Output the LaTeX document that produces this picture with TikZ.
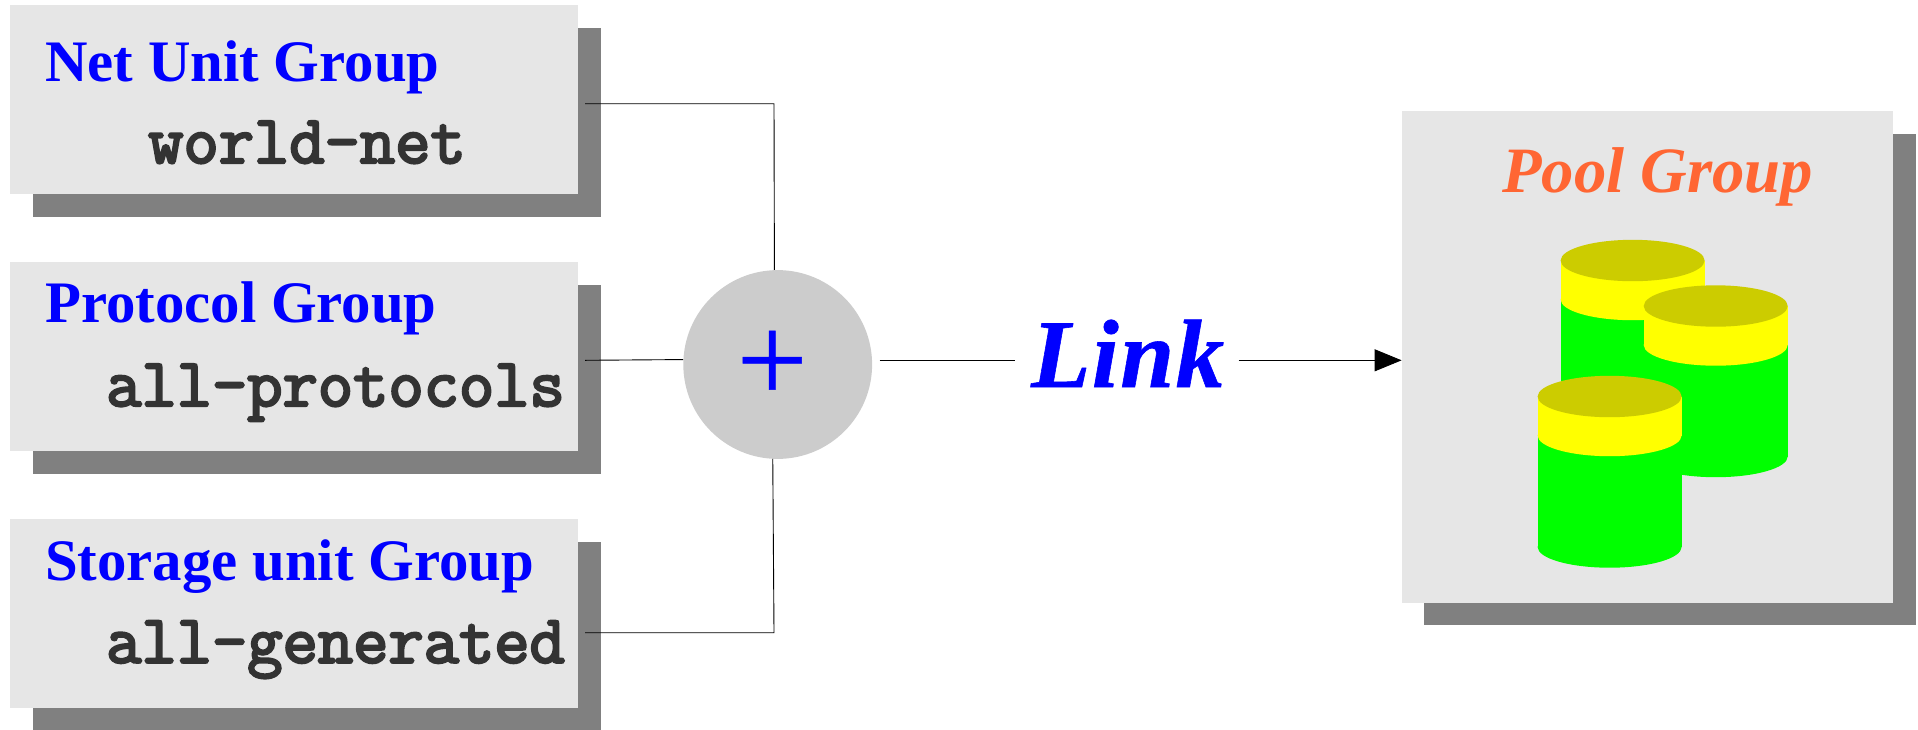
\documentclass[tikz,border=0pt]{standalone}
\usepackage{fontspec}
\setmainfont{Liberation Serif}
\newfontfamily\heavymono[FakeBold=3.5]{Latin Modern Mono}
\newfontfamily\plusfont[FakeBold=0.4]{Liberation Serif}
\newfontface\linkfont[LetterSpace=1.5,FakeBold=0.6]{Liberation Serif Bold Italic}
\usetikzlibrary{arrows.meta}
\definecolor{boxgray}{HTML}{E6E6E6}
\definecolor{shadowgray}{HTML}{808080}
\definecolor{circgray}{HTML}{CCCCCC}
\definecolor{monogray}{HTML}{333333}
\definecolor{poolorange}{HTML}{FF6633}
\definecolor{cylgreen}{HTML}{00FF00}
\definecolor{cylyellow}{HTML}{FFFF00}
\definecolor{cylolive}{HTML}{CCCC00}
\newcommand{\fsz}[1]{\fontsize{#1}{#1}\selectfont}
\newcommand{\cylinder}[2]{%
  \fill[cylgreen] (#1-72,#2+39) rectangle (#1+72,#2+150.5);
  \fill[cylgreen] (#1,#2+150.5) ellipse [x radius=72pt,y radius=20.7pt];
  \fill[cylyellow] (#1,#2+39) ellipse [x radius=72pt,y radius=20.7pt];
  \fill[cylyellow] (#1-72,#2) rectangle (#1+72,#2+39);
  \fill[cylolive] (#1,#2) ellipse [x radius=72pt,y radius=20.7pt];
}
\tikzset{
  x=1pt,y=-1pt,
  groupbox/.style={fill=boxgray,inner sep=0pt,minimum width=567.5pt,minimum height=189pt,anchor=north west},
  shadowbox/.style={fill=shadowgray,inner sep=0pt,minimum width=567.5pt,minimum height=189pt,anchor=north west},
  grouptitle/.style={anchor=base west,inner sep=0pt,text=blue,font=\fsz{58.8}\bfseries},
  groupname/.style={anchor=base west,inner sep=0pt,text=monogray,font=\fsz{68.5}\heavymono},
  conn/.style={draw=black,line width=0.9pt},
}
\begin{document}
\begin{tikzpicture}
\useasboundingbox (0,0) rectangle (1918,729);
% group boxes
\node[shadowbox] (s1) at (33,28) {};
\node[groupbox] (g1) at (10,5) {};
\node[shadowbox] (s2) at (33,285) {};
\node[groupbox] (g2) at (10,262) {};
\node[shadowbox] (s3) at (33,542) {};
\node[groupbox] (g3) at (10,519) {};
\node[grouptitle] (t1) at (45,81.7) {Net Unit Group};
\node[groupname] (n1) at (148,163) {world-net};
\node[grouptitle] (t2) at (45,322.7) {Protocol Group};
\node[groupname] (n2) at (106,406) {all-protocols};
\node[grouptitle] (t3) at (45,580) {Storage unit Group};
\node[groupname] (n3) at (106,662.7) {all-generated};
% pool box
\node[fill=shadowgray,inner sep=0pt,minimum width=492.4pt,minimum height=491.3pt,anchor=north west] (pools) at (1423.6,133.7) {};
\node[fill=boxgray,inner sep=0pt,minimum width=491.4pt,minimum height=491.8pt,anchor=north west] (pool) at (1401.6,111) {};
\node[anchor=base west,inner sep=0pt,text=poolorange,font=\fsz{64.7}\bfseries\itshape] (pooltitle) at (1502,192.3) {Pool Group};
\cylinder{1632.6}{260.5}
\cylinder{1715.7}{306}
\cylinder{1609.6}{396.5}
% adder
\node[circle,fill=circgray,inner sep=0pt,minimum size=188.8pt] (plus) at (777.7,364.5) {};
\node[anchor=base west,inner sep=0pt,text=blue,font=\fsz{126}\plusfont] (plussign) at (736.5,402) {+};
% link
\node[anchor=base west,inner sep=0pt,text=blue,font=\fsz{97}\linkfont] (link) at (1031,387) {Link};
% connectors
\coordinate (c1) at (585,103.7);
\coordinate (c2) at (585,360.3);
\coordinate (c3) at (585,632.7);
\coordinate (j1) at (774,103.7);
\coordinate (j3) at (774,632.7);
\coordinate (l1) at (879.6,360.3);
\coordinate (l2) at (1014.6,360.3);
\coordinate (l3) at (1238.6,360.3);
\draw[conn] (c1) -- (j1) -- (plus.92.25);
\draw[conn] (c2) -- (plus.177.45);
\draw[conn] (c3) -- (j3) -- (plus.267.75);
\draw[conn] (l1) -- (l2);
\draw[conn,-{Triangle[length=27pt,width=22pt]}] (l3) -- (pool.west |- l3);
\end{tikzpicture}
\end{document}
